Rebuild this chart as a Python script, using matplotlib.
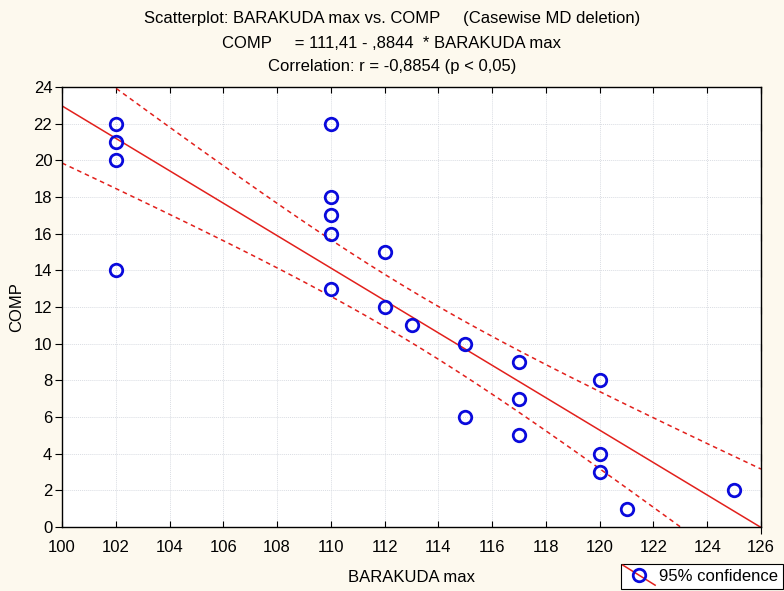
import numpy as np
import matplotlib
matplotlib.use("Agg")
import matplotlib.pyplot as plt
from matplotlib.lines import Line2D
from matplotlib.legend_handler import HandlerBase

plt.rcParams['font.family'] = ['Liberation Sans', 'DejaVu Sans']

barakuda = [102, 102, 102, 102, 110, 110, 110, 110, 110, 112, 112, 113,
            115, 115, 117, 117, 117, 120, 120, 120, 121, 125]
comp = [22, 21, 20, 14, 22, 18, 17, 16, 13, 15, 12, 11,
        10, 6, 9, 7, 5, 8, 4, 3, 1, 2]
intercept = 111.41
slope = -0.8844
t_crit = 2.086  # t(0.975, df=20)

x = np.array(barakuda, float)
y = np.array(comp, float)
n = len(x)
xx = np.linspace(100, 126, 300)
yhat = intercept + slope * xx
resid = y - (intercept + slope * x)
s = np.sqrt(np.sum(resid ** 2) / (n - 2))
sxx = np.sum((x - x.mean()) ** 2)
half = t_crit * s * np.sqrt(1 / n + (xx - x.mean()) ** 2 / sxx)

bg = '#FDF9EE'
fig = plt.figure(figsize=(7.84, 5.91), dpi=100, facecolor=bg)
ax = fig.add_axes([62 / 784, 64 / 591, 699 / 784, 440 / 591])
ax.set_facecolor('white')

red = '#E2201C'
blue = '#0A0ADC'
ax.plot(xx, yhat, color=red, lw=1.1, zorder=2)
ax.plot(xx, yhat + half, color=red, lw=1.1, ls=(0, (3, 2.5)), zorder=2)
ax.plot(xx, yhat - half, color=red, lw=1.1, ls=(0, (3, 2.5)), zorder=2)
ax.plot(x, y, 'o', ms=9, mfc='none', mec=blue, mew=2, zorder=3)

ax.set_xlim(100, 126)
ax.set_ylim(0, 24)
ax.set_xticks(np.arange(100, 127, 2))
ax.set_yticks(np.arange(0, 25, 2))
ax.grid(True, color='#DADDE3', lw=0.7, ls=(0, (1, 1)))
ax.tick_params(axis='x', direction='in', length=4, top=True, labelsize=12, pad=9)
ax.tick_params(axis='y', direction='out', length=5, labelsize=12, pad=2)
ax.tick_params(axis='y', which='major', right=True)
for t in ax.yaxis.get_major_ticks():
    t.tick2line.set_marker(3)  # inward tick on right spine
for sp in ax.spines.values():
    sp.set_linewidth(1.0)
    sp.set_color('black')

ax.set_xlabel('BARAKUDA max', fontsize=12, labelpad=11)
ax.set_ylabel('COMP', fontsize=12, labelpad=7)

fig.text(0.5, 1 - 18 / 591, 'Scatterplot: BARAKUDA max vs. COMP     (Casewise MD deletion)',
         ha='center', va='center', fontsize=12)
fig.text(0.5, 1 - 43 / 591, 'COMP     = 111,41 - ,8844  * BARAKUDA max',
         ha='center', va='center', fontsize=12)
fig.text(0.5, 1 - 67 / 591, 'Correlation: r = -0,8854 (p < 0,05)',
         ha='center', va='center', fontsize=12)


class DiagHandler(HandlerBase):
    def create_artists(self, legend, orig_handle, xdescent, ydescent, width, height, fontsize, trans):
        l = Line2D([-2, width + 2], [height + 3, -3], color=red, lw=1.1, transform=trans)
        m = Line2D([width / 2], [height / 2], marker='o', ms=9, mfc='none', mec=blue, mew=2,
                   ls='none', transform=trans)
        return [l, m]


h = Line2D([], [])
leg = fig.legend([h], ['95% confidence'], handler_map={Line2D: DiagHandler()},
                 loc='lower right', bbox_to_anchor=(783 / 784, 2 / 591), fontsize=12,
                 frameon=True, fancybox=False, edgecolor='black', framealpha=1,
                 handlelength=1.6, handletextpad=0.4, borderpad=0.3, borderaxespad=0)
leg.get_frame().set_linewidth(0.8)

fig.savefig('out.png', dpi=100, facecolor=bg)
